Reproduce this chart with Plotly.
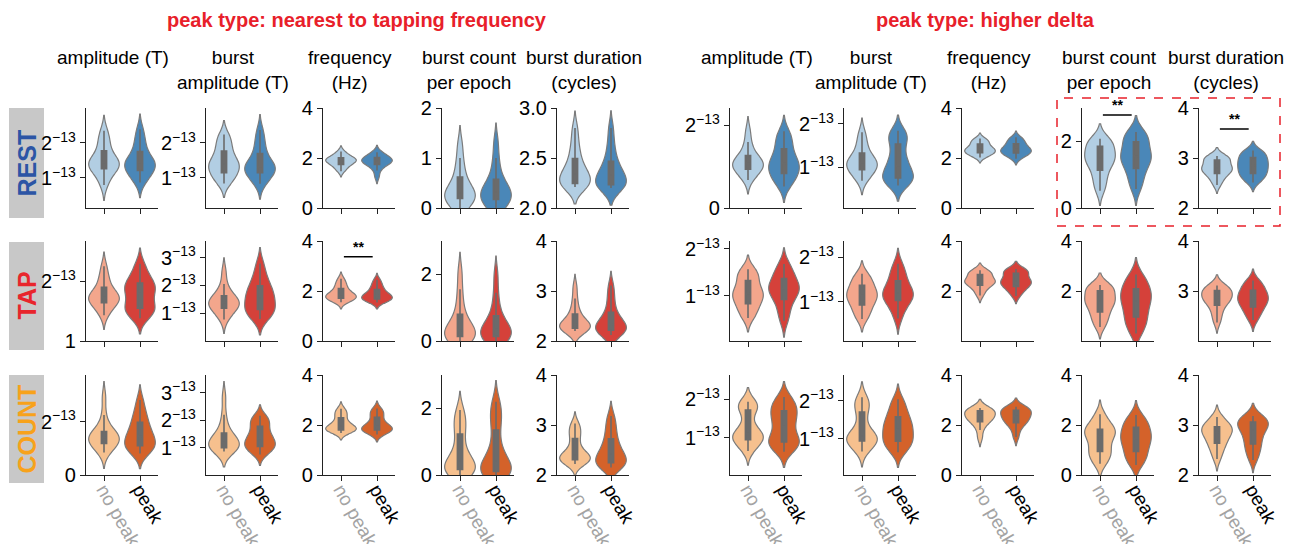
import plotly.graph_objects as go

# ---------------- data (values of amplitude in units of 1e-13 T) ----------------
CONDITIONS = ["REST", "TAP", "COUNT"]
METRICS = ["amplitude", "burst_amplitude", "frequency", "burst_count", "burst_duration"]
HEADERS = ["amplitude (T)", "burst<br>amplitude (T)", "frequency<br>(Hz)",
           "burst count<br>per epoch", "burst duration<br>(cycles)"]
BLOCK_TITLES = ["peak type: nearest to tapping frequency", "peak type: higher delta"]
X_LABELS = ["no peak", "peak"]

# nearest-to-tapping-frequency block: (no peak, peak)
near_rest = {
    "amplitude": ([0.80, 1.00, 1.15, 1.25, 1.32, 1.36, 1.40, 1.43, 1.47, 1.53, 1.65, 1.82, 1.98, 2.15, 2.35],
                  [0.87, 1.00, 1.10, 1.20, 1.26, 1.32, 1.38, 1.43, 1.47, 1.52, 1.62, 1.80, 1.95, 2.15, 2.39]),
    "burst_amplitude": ([0.84, 0.95, 1.05, 1.13, 1.21, 1.30, 1.36, 1.40, 1.45, 1.55, 1.68, 1.80, 1.95, 2.10, 2.24],
                        [0.83, 0.95, 1.05, 1.13, 1.21, 1.26, 1.29, 1.32, 1.38, 1.45, 1.58, 1.74, 1.92, 2.12, 2.37]),
    "frequency": ([1.47, 1.58, 1.67, 1.73, 1.78, 1.83, 1.87, 1.90, 1.92, 1.95, 1.98, 2.02, 2.08, 2.16, 2.26],
                  [1.25, 1.50, 1.64, 1.73, 1.78, 1.82, 1.86, 1.88, 1.91, 1.94, 1.98, 2.03, 2.08, 2.15, 2.23]),
    "burst_count": ([0.00, 0.05, 0.12, 0.18, 0.22, 0.25, 0.28, 0.30, 0.35, 0.42, 0.52, 0.65, 0.80, 1.00, 1.28],
                    [0.00, 0.05, 0.10, 0.16, 0.20, 0.25, 0.29, 0.32, 0.36, 0.42, 0.50, 0.60, 0.78, 1.00, 1.32]),
    "burst_duration": ([2.21, 2.22, 2.23, 2.24, 2.26, 2.29, 2.32, 2.34, 2.36, 2.40, 2.45, 2.51, 2.58, 2.68, 2.80],
                       [2.20, 2.21, 2.22, 2.23, 2.24, 2.27, 2.30, 2.33, 2.35, 2.38, 2.43, 2.48, 2.56, 2.66, 2.80]),
}
near_tap = {
    "amplitude": ([1.43, 1.52, 1.58, 1.63, 1.67, 1.70, 1.72, 1.73, 1.75, 1.78, 1.83, 1.92, 2.00, 2.10, 2.25],
                  [1.38, 1.45, 1.50, 1.54, 1.57, 1.63, 1.72, 1.80, 1.85, 1.89, 1.93, 1.98, 2.05, 2.15, 2.29]),
    "burst_amplitude": ([0.77, 0.95, 1.08, 1.17, 1.23, 1.30, 1.35, 1.38, 1.42, 1.48, 1.56, 1.65, 1.80, 2.05, 2.50],
                        [0.79, 0.92, 1.02, 1.12, 1.18, 1.30, 1.43, 1.55, 1.65, 1.75, 1.88, 2.02, 2.20, 2.45, 2.79]),
    "frequency": ([1.55, 1.62, 1.67, 1.70, 1.73, 1.77, 1.81, 1.85, 1.88, 1.93, 2.02, 2.12, 2.22, 2.34, 2.49],
                  [1.54, 1.60, 1.64, 1.67, 1.70, 1.74, 1.78, 1.82, 1.86, 1.91, 1.99, 2.08, 2.18, 2.30, 2.45]),
    "burst_count": ([0.00, 0.05, 0.10, 0.13, 0.17, 0.22, 0.27, 0.32, 0.38, 0.48, 0.65, 0.85, 1.15, 1.55, 2.07],
                    [0.00, 0.05, 0.10, 0.13, 0.17, 0.24, 0.30, 0.35, 0.40, 0.48, 0.62, 0.80, 1.05, 1.45, 1.98]),
    "burst_duration": ([2.20, 2.22, 2.24, 2.25, 2.27, 2.29, 2.31, 2.33, 2.36, 2.41, 2.48, 2.56, 2.68, 2.85, 3.08],
                       [2.12, 2.15, 2.18, 2.21, 2.24, 2.27, 2.30, 2.33, 2.37, 2.43, 2.50, 2.60, 2.75, 2.92, 3.11]),
}
near_count = {
    "amplitude": ([0.84, 0.98, 1.08, 1.17, 1.23, 1.30, 1.36, 1.40, 1.45, 1.51, 1.57, 1.65, 1.85, 2.25, 2.91],
                  [0.81, 0.92, 1.00, 1.08, 1.14, 1.25, 1.36, 1.45, 1.55, 1.68, 1.85, 2.02, 2.20, 2.45, 2.81]),
    "burst_amplitude": ([0.86, 0.92, 0.96, 0.99, 1.03, 1.10, 1.16, 1.20, 1.25, 1.33, 1.44, 1.56, 1.80, 2.20, 2.84],
                        [0.75, 0.88, 0.97, 1.03, 1.08, 1.17, 1.25, 1.32, 1.42, 1.52, 1.66, 1.82, 1.93, 2.04, 2.16]),
    "frequency": ([1.68, 1.74, 1.78, 1.80, 1.82, 1.86, 1.91, 1.96, 2.00, 2.07, 2.18, 2.32, 2.42, 2.53, 2.65],
                  [1.62, 1.70, 1.75, 1.79, 1.82, 1.86, 1.90, 1.95, 2.00, 2.08, 2.20, 2.34, 2.44, 2.55, 2.66]),
    "burst_count": ([0.00, 0.06, 0.12, 0.16, 0.20, 0.28, 0.35, 0.42, 0.55, 0.72, 1.00, 1.30, 1.50, 1.72, 1.95],
                    [0.00, 0.04, 0.08, 0.10, 0.12, 0.22, 0.32, 0.42, 0.55, 0.75, 1.05, 1.45, 1.70, 1.95, 2.20]),
    "burst_duration": ([2.22, 2.26, 2.28, 2.30, 2.32, 2.35, 2.38, 2.40, 2.45, 2.52, 2.64, 2.76, 2.85, 2.94, 3.03],
                       [2.15, 2.18, 2.21, 2.24, 2.27, 2.31, 2.37, 2.42, 2.48, 2.55, 2.64, 2.75, 2.88, 3.02, 3.18]),
}

# higher-delta block: (no peak, peak)
delta_rest = {
    "amplitude": ([0.68, 0.78, 0.86, 0.93, 0.97, 1.01, 1.05, 1.08, 1.11, 1.15, 1.21, 1.29, 1.42, 1.60, 1.87],
                  [0.52, 0.64, 0.74, 0.82, 0.88, 0.95, 1.02, 1.08, 1.14, 1.22, 1.33, 1.47, 1.60, 1.72, 1.86]),
    "burst_amplitude": ([0.68, 0.78, 0.86, 0.93, 0.97, 1.02, 1.07, 1.10, 1.13, 1.18, 1.25, 1.35, 1.48, 1.63, 1.81],
                        [0.57, 0.64, 0.70, 0.74, 0.77, 0.85, 0.94, 1.03, 1.12, 1.24, 1.40, 1.58, 1.68, 1.76, 1.84]),
    "frequency": ([2.02, 2.10, 2.16, 2.20, 2.23, 2.27, 2.31, 2.35, 2.39, 2.43, 2.50, 2.58, 2.64, 2.71, 2.78],
                  [1.97, 2.07, 2.14, 2.19, 2.22, 2.26, 2.31, 2.35, 2.39, 2.44, 2.51, 2.59, 2.66, 2.74, 2.83]),
    "burst_count": ([0.52, 0.72, 0.92, 1.10, 1.25, 1.36, 1.44, 1.50, 1.57, 1.65, 1.75, 1.88, 1.95, 2.02, 2.08],
                    [0.57, 0.78, 0.98, 1.15, 1.30, 1.40, 1.48, 1.55, 1.63, 1.73, 1.87, 2.02, 2.12, 2.20, 2.28]),
    "burst_duration": ([2.46, 2.56, 2.63, 2.68, 2.72, 2.75, 2.78, 2.80, 2.83, 2.87, 2.92, 2.97, 3.00, 3.02, 3.04],
                       [2.51, 2.58, 2.63, 2.68, 2.72, 2.76, 2.81, 2.85, 2.89, 2.93, 2.97, 3.02, 3.07, 3.11, 3.15]),
}
delta_tap = {
    "amplitude": ([0.53, 0.63, 0.72, 0.82, 0.88, 0.95, 1.01, 1.05, 1.09, 1.15, 1.25, 1.35, 1.43, 1.50, 1.57],
                  [0.47, 0.62, 0.78, 0.90, 1.00, 1.06, 1.11, 1.15, 1.19, 1.24, 1.31, 1.39, 1.48, 1.58, 1.68]),
    "burst_amplitude": ([0.62, 0.72, 0.82, 0.92, 0.98, 1.05, 1.11, 1.15, 1.19, 1.24, 1.31, 1.39, 1.46, 1.54, 1.63],
                        [0.63, 0.80, 0.93, 1.02, 1.07, 1.12, 1.16, 1.20, 1.25, 1.31, 1.40, 1.50, 1.60, 1.72, 1.85]),
    "frequency": ([1.82, 2.00, 2.12, 2.22, 2.28, 2.33, 2.37, 2.40, 2.44, 2.50, 2.60, 2.68, 2.73, 2.78, 2.83],
                  [1.80, 1.97, 2.08, 2.17, 2.23, 2.29, 2.35, 2.40, 2.45, 2.52, 2.63, 2.73, 2.79, 2.84, 2.88]),
    "burst_count": ([0.56, 0.78, 0.97, 1.12, 1.28, 1.42, 1.53, 1.60, 1.68, 1.77, 1.90, 2.05, 2.13, 2.19, 2.24],
                    [0.30, 0.55, 0.75, 0.92, 1.08, 1.30, 1.48, 1.60, 1.72, 1.85, 1.98, 2.12, 2.28, 2.45, 2.66]),
    "burst_duration": ([2.37, 2.50, 2.60, 2.70, 2.76, 2.80, 2.84, 2.87, 2.90, 2.94, 2.98, 3.02, 3.05, 3.08, 3.11],
                       [2.42, 2.52, 2.60, 2.67, 2.72, 2.77, 2.81, 2.85, 2.89, 2.93, 2.97, 3.03, 3.09, 3.15, 3.21]),
}
delta_count = {
    "amplitude": ([0.66, 0.78, 0.88, 0.94, 0.98, 1.04, 1.09, 1.12, 1.20, 1.35, 1.60, 1.75, 1.82, 1.88, 1.93],
                  [0.64, 0.75, 0.83, 0.88, 0.93, 1.02, 1.15, 1.30, 1.42, 1.53, 1.63, 1.72, 1.82, 1.93, 2.05]),
    "burst_amplitude": ([0.66, 0.78, 0.86, 0.93, 0.97, 1.01, 1.04, 1.07, 1.15, 1.30, 1.55, 1.75, 1.88, 1.98, 2.09],
                        [0.64, 0.76, 0.85, 0.92, 0.98, 1.07, 1.17, 1.25, 1.32, 1.40, 1.50, 1.60, 1.72, 1.88, 2.04]),
    "frequency": ([1.48, 1.80, 2.00, 2.12, 2.18, 2.24, 2.30, 2.35, 2.40, 2.46, 2.53, 2.58, 2.62, 2.65, 2.68],
                  [1.52, 1.80, 1.98, 2.08, 2.14, 2.22, 2.29, 2.35, 2.41, 2.47, 2.54, 2.60, 2.65, 2.69, 2.73]),
    "burst_count": ([0.45, 0.62, 0.78, 0.92, 1.02, 1.20, 1.40, 1.55, 1.66, 1.73, 1.78, 1.85, 2.00, 2.20, 2.43],
                    [0.40, 0.58, 0.75, 0.90, 1.05, 1.22, 1.35, 1.45, 1.55, 1.65, 1.80, 1.95, 2.05, 2.20, 2.40]),
    "burst_duration": ([2.32, 2.45, 2.55, 2.62, 2.68, 2.74, 2.80, 2.85, 2.88, 2.91, 2.94, 2.97, 3.02, 3.09, 3.16],
                       [2.30, 2.42, 2.52, 2.60, 2.68, 2.76, 2.84, 2.90, 2.95, 2.99, 3.03, 3.07, 3.11, 3.14, 3.18]),
}

# y-axis ranges per row (REST, TAP, COUNT) x column
near_yranges = [
    [[0.14, 3.0], [0.14, 3.0], [0, 4], [0, 2], [2.0, 3.0]],
    [[1.0, 2.67], [0.0, 3.6], [0, 4], [0, 3], [2, 4]],
    [[0.0, 3.75], [0.0, 3.65], [0, 4], [0, 3], [2, 4]],
]
delta_yranges = [
    [[0.0, 2.42], [0.05, 2.37], [0, 4], [0, 3], [2, 4]],
    [[0.04, 2.17], [0.13, 2.36], [0, 4], [0, 4], [2, 4]],
    [[0.04, 2.62], [0.04, 2.68], [0, 4], [0, 4], [2, 4]],
]
E = "<sup>\u221213</sup>"
near_yticks = [
    [([1, 2], ["1" + E, "2" + E]), ([1, 2], ["1" + E, "2" + E]), ([0, 2, 4], ["0", "2", "4"]),
     ([0, 1, 2], ["0", "1", "2"]), ([2.0, 2.5, 3.0], ["2.0", "2.5", "3.0"])],
    [([1, 2], ["1", "2" + E]), ([1, 2, 3], ["1" + E, "2" + E, "3" + E]), ([0, 2, 4], ["0", "2", "4"]),
     ([0, 2], ["0", "2"]), ([2, 3, 4], ["2", "3", "4"])],
    [([0, 2], ["0", "2" + E]), ([1, 2, 3], ["1" + E, "2" + E, "3" + E]), ([0, 2, 4], ["0", "2", "4"]),
     ([0, 2], ["0", "2"]), ([2, 3, 4], ["2", "3", "4"])],
]
delta_yticks = [
    [([0, 2], ["0", "2" + E]), ([1, 2], ["1" + E, "2" + E]), ([0, 2, 4], ["0", "2", "4"]),
     ([0, 2], ["0", "2"]), ([2, 3, 4], ["2", "3", "4"])],
    [([1, 2], ["1" + E, "2" + E]), ([1, 2], ["1" + E, "2" + E]), ([2, 4], ["2", "4"]),
     ([2, 4], ["2", "4"]), ([3, 4], ["3", "4"])],
    [([1, 2], ["1" + E, "2" + E]), ([1, 2], ["1" + E, "2" + E]), ([0, 2, 4], ["0", "2", "4"]),
     ([0, 2, 4], ["0", "2", "4"]), ([2, 3, 4], ["2", "3", "4"])],
]
# significance marks: (block, row, col, y of bar)
SIGNIF = [(0, 1, 2, 3.37), (1, 0, 3, 2.79), (1, 0, 4, 3.58)]

BLOCKS = [
    {"data": [near_rest, near_tap, near_count], "yr": near_yranges, "yt": near_yticks},
    {"data": [delta_rest, delta_tap, delta_count], "yr": delta_yranges, "yt": delta_yticks},
]

# ---------------- styling / layout ----------------
W, H = 1295, 544
OFF = 8  # page body margin in the browser
COL_X = [[86, 206, 323, 442, 557], [730, 844, 962, 1082, 1199]]
COL_W = 72
ROW_Y = [108, 241, 375]
ROW_H = 100
COLORS = {"REST": ("#b2cee3", "#4a87b8"), "TAP": ("#f3a68c", "#d5413a"),
          "COUNT": ("#f6c08e", "#d4622a")}
LABEL_COLORS = {"REST": "#2c55a5", "TAP": "#e8252c", "COUNT": "#f7a21b"}
FONT = "Liberation Sans, Arial, Helvetica, sans-serif"
TICKF = 19
AX = "#222222"


def px(x):
    return (x - OFF) / W


def py(y):
    return 1 - (y - OFF) / H


fig = go.Figure()
layout = dict(width=W, height=H,
              margin=dict(l=0, r=0, t=0, b=0, pad=0, autoexpand=False),
              paper_bgcolor="white", plot_bgcolor="white", showlegend=False,
              violinmode="overlay", font=dict(family=FONT, size=TICKF, color="black"),
              hovermode=False)
annotations, shapes = [], []

idx = 0
axis_of = {}
for b, blk in enumerate(BLOCKS):
    for r, cond in enumerate(CONDITIONS):
        for c, metric in enumerate(METRICS):
            idx += 1
            suf = "" if idx == 1 else str(idx)
            axis_of[(b, r, c)] = suf
            x0 = COL_X[b][c]
            y0 = ROW_Y[r]
            if r == 2:
                ttext = ["<span style='color:#a3a3a3'>%s</span>" % X_LABELS[0], X_LABELS[1]]
            else:
                ttext = [" ", " "]
            layout["xaxis" + suf] = dict(
                domain=[px(x0), px(x0 + COL_W)], anchor="y" + suf, range=[-0.5, 1.5],
                tickvals=[0, 1], ticktext=ttext, tickangle=60, showline=True, linecolor=AX,
                linewidth=1.3, ticks="outside", ticklen=5, tickwidth=1.3, tickcolor=AX,
                showgrid=False, zeroline=False, fixedrange=True, automargin=False,
                ticklabelstandoff=-10, tickfont=dict(size=TICKF, color="black"))
            tv, tt = blk["yt"][r][c]
            layout["yaxis" + suf] = dict(
                domain=[py(y0 + ROW_H), py(y0)], anchor="x" + suf, range=blk["yr"][r][c],
                tickvals=tv, ticktext=tt, showline=True, linecolor=AX, linewidth=1.3,
                ticks="outside", ticklen=5, tickwidth=1.3, tickcolor=AX, showgrid=False,
                zeroline=False, fixedrange=True, automargin=False,
                tickfont=dict(size=TICKF + 1, color="black"))
            for g in range(2):
                s = blk["data"][r][metric][g]
                bw = (max(s) - min(s)) / 7.0
                fig.add_trace(go.Violin(
                    x0=g, y=s, xaxis="x" + suf, yaxis="y" + suf, name=X_LABELS[g],
                    bandwidth=bw, spanmode="soft", width=0.85, scalemode="width",
                    fillcolor=COLORS[cond][g], opacity=1,
                    line=dict(color="#7b7b7b", width=1.2), points=False,
                    box=dict(visible=True, width=0.17, fillcolor="#6b6b6b",
                             line=dict(color="#6b6b6b", width=1.6)),
                    meanline=dict(visible=False), hoverinfo="skip"))

# column headers
for b in range(2):
    for c in range(5):
        cx = COL_X[b][c] + COL_W / 2 - 9
        annotations.append(dict(x=px(cx), y=py(45), xref="paper", yref="paper",
                                text=HEADERS[c], showarrow=False, xanchor="center",
                                yanchor="top", align="center",
                                font=dict(size=19, color="black", family=FONT)))
# block titles
for b, cx in enumerate([357, 985]):
    annotations.append(dict(x=px(cx), y=py(20), xref="paper", yref="paper",
                            text="<b>%s</b>" % BLOCK_TITLES[b], showarrow=False,
                            xanchor="center", yanchor="middle",
                            font=dict(size=20, color="#e8202a", family=FONT)))
# row labels with grey boxes
ROW_BOX = [(108, 218), (242, 350), (375, 483)]
for r, cond in enumerate(CONDITIONS):
    yt, yb = ROW_BOX[r]
    shapes.append(dict(type="rect", xref="paper", yref="paper", x0=px(9), x1=px(44),
                       y0=py(yb), y1=py(yt), fillcolor="#c8c8c8", line=dict(width=0),
                       layer="below"))
    annotations.append(dict(x=px(26.5), y=py((yt + yb) / 2), xref="paper", yref="paper",
                            text="<b>%s</b>" % cond, showarrow=False, textangle=-90,
                            xanchor="center", yanchor="middle",
                            font=dict(size=25, color=LABEL_COLORS[cond], family=FONT)))
# significance bars
for b, r, c, yv in SIGNIF:
    suf = axis_of[(b, r, c)]
    shapes.append(dict(type="line", xref="x" + suf, yref="y" + suf, x0=0.08, x1=0.88,
                       y0=yv, y1=yv, line=dict(color="black", width=1.5)))
    annotations.append(dict(x=0.48, y=yv, xref="x" + suf, yref="y" + suf, text="<b>**</b>",
                            showarrow=False, xanchor="center", yanchor="bottom", yshift=0,
                            font=dict(size=14, color="black", family=FONT)))
# dashed highlight box
shapes.append(dict(type="rect", xref="paper", yref="paper", x0=px(1057), x1=px(1280),
                   y0=py(226), y1=py(98), line=dict(color="#e8202a", width=1.5, dash="dash"),
                   fillcolor="rgba(0,0,0,0)"))

layout["annotations"] = annotations
layout["shapes"] = shapes
fig.update_layout(**layout)
fig.write_html("out.html")
